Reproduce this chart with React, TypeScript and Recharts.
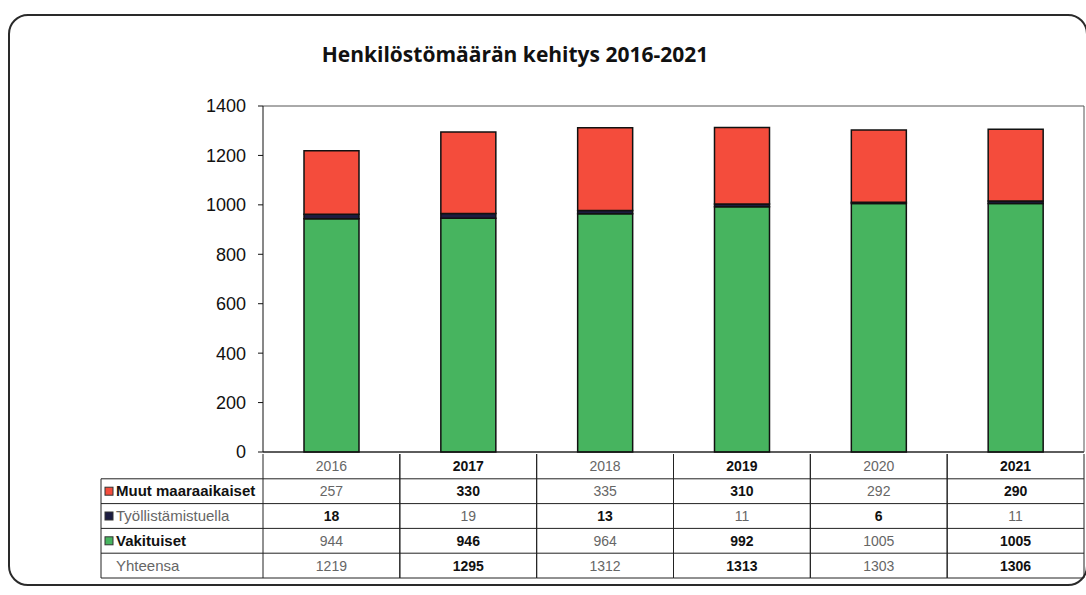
import { BarChart, Bar, XAxis, YAxis, CartesianGrid } from 'recharts';

const years = ['2016', '2017', '2018', '2019', '2020', '2021'];
const muut = [257, 330, 335, 310, 292, 290];
const tyollistamistuella = [18, 19, 13, 11, 6, 11];
const vakituiset = [944, 946, 964, 992, 1005, 1005];
const yhteensa = [1219, 1295, 1312, 1313, 1303, 1306];
const yTicks = [0, 200, 400, 600, 800, 1000, 1200, 1400];

const data = years.map((year, i) => ({
  year,
  muut: muut[i],
  tyol: tyollistamistuella[i],
  vak: vakituiset[i],
  yht: yhteensa[i],
}));

const rows = [
  { label: 'Muut maaraaikaiset', key: 'muut', color: '#f44c3c' },
  { label: 'Työllistämistuella', key: 'tyol', color: '#1c1c40' },
  { label: 'Vakituiset', key: 'vak', color: '#47b45f' },
  { label: 'Yhteensa', key: 'yht', color: '' },
];

const W = 1086;
const H = 595;
const AXIS_W = 263;
const PLOT_TOP = 106;
const PLOT_BOTTOM = 452;
const RIGHT = 2;
const BAND = (W - AXIS_W - RIGHT) / years.length;
const ROW_H = 24.8;
const TABLE_LEFT = 101;
const FONT = 'Liberation Sans, Arial, sans-serif';

// scan look: every other column is darker / bolder
const cellStyle = (col: number, row: number) => {
  const dark = (col % 2 === 1) !== (row === 2);
  return dark
    ? { fill: '#111', fontWeight: 700 }
    : { fill: '#666', fontWeight: 400 };
};

const TableTick = (props: any) => {
  const { x, y, index } = props;
  const d = data[index];
  const left = x - BAND / 2;
  const right = x + BAND / 2;
  const bottom = y + ROW_H * 5;
  return (
    <g fontFamily={FONT} fontSize={14}>
      <line x1={left} x2={left} y1={y} y2={bottom} stroke="#222" />
      <line x1={right} x2={right} y1={y} y2={bottom} stroke="#222" />
      {[1, 2, 3, 4, 5].map((r) => (
        <line key={r} x1={left} x2={right} y1={y + r * ROW_H} y2={y + r * ROW_H} stroke="#222" />
      ))}
      <text x={x} y={y + ROW_H / 2 + 5} textAnchor="middle" {...cellStyle(index, 0)}>
        {d.year}
      </text>
      {rows.map((r, ri) => (
        <text key={r.key} x={x} y={y + ROW_H * (ri + 1) + ROW_H / 2 + 5} textAnchor="middle" {...cellStyle(index, ri + 1)}>
          {(d as any)[r.key]}
        </text>
      ))}
      {index === 0 && (
        <g fontSize={15}>
          <line x1={TABLE_LEFT} x2={TABLE_LEFT} y1={y + ROW_H} y2={bottom} stroke="#222" />
          {[1, 2, 3, 4, 5].map((r) => (
            <line key={r} x1={TABLE_LEFT} x2={left} y1={y + r * ROW_H} y2={y + r * ROW_H} stroke="#222" />
          ))}
          {rows.map((r, ri) => {
            const cy = y + ROW_H * (ri + 1) + ROW_H / 2;
            const st = ri === 0 || ri === 2 ? { fill: '#111', fontWeight: 700 } : { fill: '#666', fontWeight: 400 };
            return (
              <g key={r.key}>
                {r.color && (
                  <rect x={TABLE_LEFT + 4} y={cy - 4} width={8} height={8} fill={r.color} stroke="#333" />
                )}
                <text x={TABLE_LEFT + 15} y={cy + 5} {...st}>
                  {r.label}
                </text>
              </g>
            );
          })}
        </g>
      )}
    </g>
  );
};

export default function App() {
  return (
    <div style={{ position: 'absolute', left: 0, top: 0, width: W, height: H, background: '#fff', overflow: 'hidden' }}>
      <div
        style={{
          position: 'absolute',
          left: 8,
          top: 14,
          width: 1080,
          height: 572,
          border: '2.5px solid #2a2a2a',
          borderRadius: 20,
          boxSizing: 'border-box',
        }}
      />
      <div
        style={{
          position: 'absolute',
          left: 0,
          top: 40,
          width: 1030,
          textAlign: 'center',
          fontFamily: 'Open Sans, sans-serif',
          fontWeight: 700,
          fontSize: 21,
          color: '#111',
        }}
      >
        Henkilöstömäärän kehitys 2016-2021
      </div>
      <div style={{ position: 'absolute', left: 0, top: 0 }}>
        <BarChart
          width={W}
          height={H}
          data={data}
          margin={{ top: PLOT_TOP, right: RIGHT - 1, left: 0, bottom: 0 }}
          barCategoryGap="30%"
        >
          <CartesianGrid horizontal vertical={false} stroke="#555" />
          <XAxis
            dataKey="year"
            height={H - PLOT_BOTTOM}
            axisLine={{ stroke: '#111' }}
            tickLine={false}
            tickSize={0}
            tick={<TableTick />}
            interval={0}
          />
          <YAxis
            yAxisId="left"
            width={AXIS_W}
            domain={[0, 1400]}
            ticks={yTicks}
            axisLine={{ stroke: '#111' }}
            tickLine={{ stroke: '#111' }}
            tickSize={5}
            tickMargin={12}
            tick={{ fill: '#111', fontSize: 18, fontFamily: FONT }}
          />
          <YAxis
            yAxisId="right"
            orientation="right"
            width={1}
            domain={[0, 1400]}
            ticks={yTicks}
            tick={false}
            tickLine={false}
            axisLine={{ stroke: '#555' }}
          />
          <Bar yAxisId="left" dataKey="vak" stackId="a" fill="#47b45f" stroke="#111" strokeWidth={1.5} barSize={55} isAnimationActive={false} />
          <Bar yAxisId="left" dataKey="tyol" stackId="a" fill="#1c1c40" stroke="#111" strokeWidth={1.5} barSize={55} isAnimationActive={false} />
          <Bar yAxisId="left" dataKey="muut" stackId="a" fill="#f44c3c" stroke="#111" strokeWidth={1.5} barSize={55} isAnimationActive={false} />
        </BarChart>
      </div>
    </div>
  );
}
